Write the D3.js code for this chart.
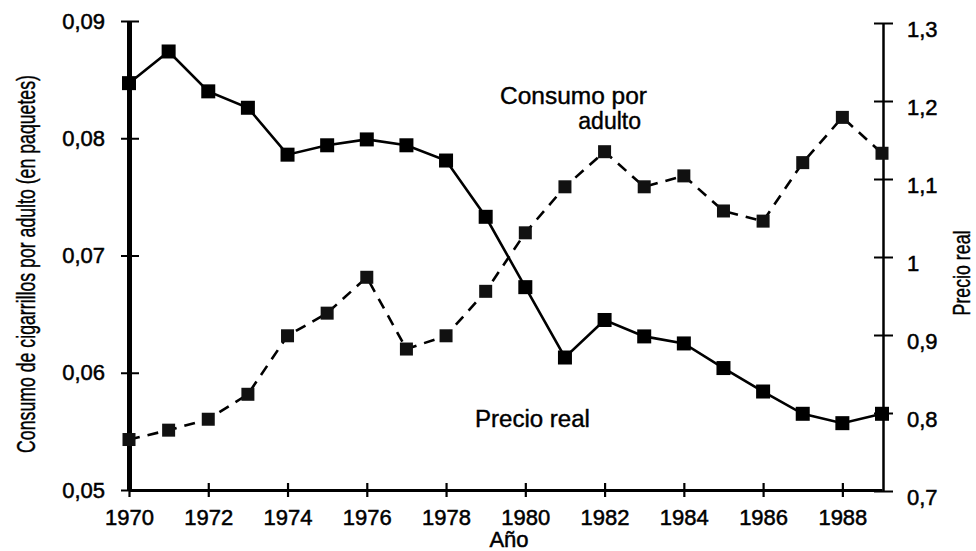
<!DOCTYPE html>
<html><head><meta charset="utf-8">
<script src="https://cdn.jsdelivr.net/npm/d3@7"></script>
<style>
html,body{margin:0;padding:0;background:#fff;}
svg{display:block;font-family:"Liberation Sans",Arial,sans-serif;}
</style></head>
<body>
<svg id="c" width="976" height="551"></svg>
<script>
const years = [1970,1971,1972,1973,1974,1975,1976,1977,1978,1979,1980,1981,1982,1983,1984,1985,1986,1987,1988,1989];
// solid series, left axis
const consumo = [0.0847,0.0874,0.0840,0.0826,0.0786,0.0794,0.0799,0.0794,0.0781,0.0733,0.0673,0.0613,0.0645,0.0631,0.0625,0.0604,0.0584,0.0565,0.0557,0.0565];
// dashed series, right axis
const precio = [0.766,0.778,0.792,0.824,0.899,0.928,0.974,0.882,0.899,0.956,1.031,1.090,1.135,1.090,1.104,1.059,1.046,1.121,1.179,1.133];
const xTicks = [1970,1972,1974,1976,1978,1980,1982,1984,1986,1988];
const leftTicks = [0.05,0.06,0.07,0.08,0.09];
const leftLabels = ["0,05","0,06","0,07","0,08","0,09"];
const rightTicks = [0.7,0.8,0.9,1.0,1.1,1.2,1.3];
const rightLabels = ["0,7","0,8","0,9","1","1,1","1,2","1,3"];

const svg = d3.select("#c");
const x = d3.scaleLinear().domain([1970,1989]).range([129,882]);
const yL = d3.scaleLinear().domain([0.05,0.09]).range([490,21]);
const yR = d3.scaleLinear().domain([0.7,1.3]).range([491,23]);

// bottom axis
const gx = svg.append("g").attr("transform","translate(0,490)")
  .call(d3.axisBottom(x).tickValues(xTicks).tickFormat(d=>String(d)).tickSizeInner(7).tickSizeOuter(0).tickPadding(12));
gx.select(".domain").attr("stroke","#000").attr("stroke-width",3);
gx.selectAll(".tick line").attr("y1",-7).attr("y2",7).attr("stroke-width",2.2);
gx.selectAll(".tick text").attr("font-size",22).attr("fill","#000").attr("stroke","#000").attr("stroke-width",0.5);

// left axis
const gl = svg.append("g").attr("transform","translate(129,0)")
  .call(d3.axisLeft(yL).tickValues(leftTicks).tickFormat((d,i)=>leftLabels[i]).tickSizeInner(8).tickSizeOuter(0).tickPadding(16));
gl.select(".domain").attr("stroke","#000").attr("stroke-width",5);
gl.selectAll(".tick line").attr("x1",-8).attr("x2",10).attr("stroke-width",2);
gl.selectAll(".tick text").attr("font-size",22).attr("fill","#000").attr("stroke","#000").attr("stroke-width",0.5);

// right axis
const gr = svg.append("g").attr("transform","translate(883,0)")
  .call(d3.axisRight(yR).tickValues(rightTicks).tickFormat((d,i)=>rightLabels[i]).tickSizeInner(10).tickSizeOuter(0).tickPadding(14));
gr.select(".domain").attr("stroke","#000").attr("stroke-width",2.5);
gr.selectAll(".tick line").attr("x1",-9).attr("x2",10).attr("stroke-width",2);
gr.selectAll(".tick text").attr("font-size",22).attr("dy","0.62em").attr("fill","#000").attr("stroke","#000").attr("stroke-width",0.5);

// helper: text condensed horizontally to a target width via transform
function fitText(tx, ty, rot, size, target, anchor, label) {
  const t = svg.append("text").attr("font-size", size).attr("text-anchor", anchor)
    .attr("fill","#000").attr("stroke","#000").attr("stroke-width",0.4).text(label);
  const w = t.node().getComputedTextLength();
  const s = target / w;
  t.attr("transform", `translate(${tx},${ty}) rotate(${rot}) scale(${s},1)`);
  return t;
}

// axis titles
fitText(35, 264, -90, 26, 378, "middle", "Consumo de cigarrillos por adulto (en paquetes)");
fitText(970, 273, -90, 24, 85, "middle", "Precio real");
svg.append("text").attr("x",509).attr("y",547).attr("text-anchor","middle")
  .attr("font-size",22).attr("fill","#000").attr("stroke","#000").attr("stroke-width",0.5).text("Año");

// lines
const lineL = d3.line().x((d,i)=>x(years[i])).y(d=>yL(d));
const lineR = d3.line().x((d,i)=>x(years[i])).y(d=>yR(d));
svg.append("path").datum(consumo).attr("d",lineL).attr("fill","none").attr("stroke","#000").attr("stroke-width",2.6);
svg.append("path").datum(precio).attr("d",lineR).attr("fill","none").attr("stroke","#000").attr("stroke-width",2.6).attr("stroke-dasharray","11,8");

// markers
const s1 = 14, s2 = 13;
svg.append("g").selectAll("rect").data(consumo).join("rect")
  .attr("x",(d,i)=>x(years[i])-s1/2).attr("y",d=>yL(d)-s1/2).attr("width",s1).attr("height",s1).attr("fill","#000");
svg.append("g").selectAll("rect").data(precio).join("rect")
  .attr("x",(d,i)=>x(years[i])-s2/2).attr("y",d=>yR(d)-s2/2).attr("width",s2).attr("height",s2).attr("fill","#111");

// annotations
fitText(500, 104, 0, 23, 147, "start", "Consumo por");
svg.append("text").attr("x",641).attr("y",129).attr("text-anchor","end").attr("font-size",23)
  .attr("fill","#000").attr("stroke","#000").attr("stroke-width",0.4).text("adulto");
fitText(475, 427, 0, 23, 115, "start", "Precio real");
</script>
</body></html>
